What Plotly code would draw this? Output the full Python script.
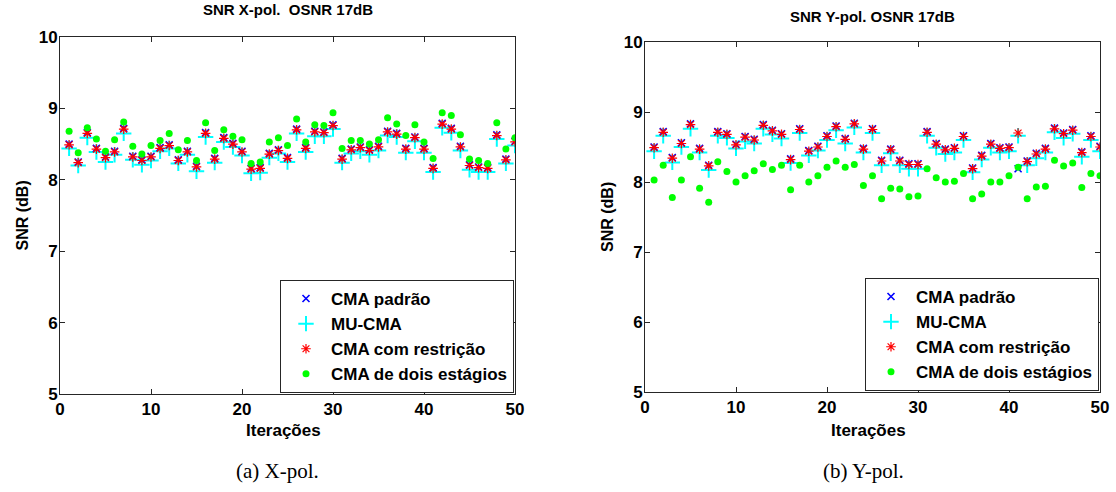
import plotly.graph_objects as go

iters = list(range(1, 51))

# ---- X-pol (left) ----
x_padrao = [8.50, 8.25, 8.66, 8.44, 8.32, 8.40, 8.72, 8.33, 8.28, 8.33, 8.45, 8.49, 8.28, 8.40, 8.19, 8.66, 8.30, 8.59, 8.51, 8.40,
            8.16, 8.17, 8.37, 8.42, 8.31, 8.71, 8.45, 8.68, 8.67, 8.77, 8.30, 8.43, 8.46, 8.42, 8.47, 8.68, 8.65, 8.44, 8.60, 8.44,
            8.17, 8.79, 8.72, 8.47, 8.21, 8.18, 8.17, 8.63, 8.29, 8.54]
x_mucma = [8.44, 8.20, 8.59, 8.39, 8.25, 8.35, 8.65, 8.28, 8.21, 8.27, 8.40, 8.44, 8.23, 8.35, 8.12, 8.60, 8.24, 8.53, 8.46, 8.34,
           8.09, 8.10, 8.31, 8.37, 8.25, 8.65, 8.39, 8.61, 8.61, 8.71, 8.24, 8.37, 8.40, 8.35, 8.41, 8.62, 8.60, 8.38, 8.54, 8.38,
           8.11, 8.73, 8.66, 8.41, 8.14, 8.11, 8.11, 8.57, 8.23, 8.48]
x_restr = [8.49, 8.24, 8.65, 8.43, 8.31, 8.39, 8.71, 8.32, 8.27, 8.32, 8.44, 8.48, 8.27, 8.39, 8.18, 8.65, 8.29, 8.58, 8.50, 8.39,
           8.15, 8.16, 8.36, 8.41, 8.30, 8.70, 8.44, 8.67, 8.66, 8.76, 8.29, 8.42, 8.45, 8.41, 8.46, 8.67, 8.64, 8.43, 8.59, 8.43,
           8.16, 8.78, 8.71, 8.46, 8.20, 8.17, 8.16, 8.62, 8.28, 8.53]
x_dois = [8.68, 8.38, 8.73, 8.57, 8.40, 8.56, 8.81, 8.47, 8.36, 8.48, 8.55, 8.65, 8.42, 8.55, 8.27, 8.80, 8.41, 8.70, 8.61, 8.56,
          8.23, 8.25, 8.53, 8.59, 8.48, 8.85, 8.53, 8.77, 8.76, 8.94, 8.44, 8.55, 8.55, 8.50, 8.56, 8.87, 8.78, 8.62, 8.77, 8.53,
          8.30, 8.94, 8.90, 8.63, 8.29, 8.27, 8.23, 8.80, 8.43, 8.59]

# ---- Y-pol (right) ----
y_padrao = [8.50, 8.72, 8.35, 8.56, 8.83, 8.48, 8.24, 8.72, 8.69, 8.54, 8.65, 8.61, 8.82, 8.74, 8.69, 8.33, 8.76, 8.45, 8.51, 8.66,
            8.80, 8.62, 8.84, 8.48, 8.76, 8.31, 8.47, 8.31, 8.26, 8.26, 8.72, 8.55, 8.47, 8.49, 8.66, 8.20, 8.38, 8.55, 8.49, 8.50,
            8.19, 8.30, 8.41, 8.48, 8.77, 8.70, 8.75, 8.43, 8.66, 8.51]
y_mucma = [8.44, 8.66, 8.28, 8.50, 8.76, 8.42, 8.17, 8.66, 8.63, 8.48, 8.58, 8.55, 8.76, 8.68, 8.62, 8.27, 8.70, 8.38, 8.45, 8.60,
           8.74, 8.55, 8.78, 8.42, 8.70, 8.24, 8.41, 8.24, 8.19, 8.19, 8.66, 8.49, 8.40, 8.42, 8.60, 8.14, 8.32, 8.49, 8.42, 8.44,
           8.66, 8.24, 8.34, 8.42, 8.71, 8.63, 8.69, 8.36, 8.60, 8.44]
y_restr = [8.49, 8.71, 8.34, 8.55, 8.82, 8.47, 8.23, 8.71, 8.68, 8.53, 8.64, 8.60, 8.81, 8.73, 8.68, 8.32, 8.75, 8.44, 8.50, 8.65,
           8.79, 8.61, 8.83, 8.47, 8.75, 8.30, 8.46, 8.30, 8.25, 8.25, 8.71, 8.54, 8.46, 8.48, 8.65, 8.19, 8.37, 8.54, 8.48, 8.49,
           8.70, 8.29, 8.40, 8.47, 8.76, 8.69, 8.74, 8.42, 8.65, 8.50]
y_dois = [8.03, 8.24, 7.78, 8.03, 8.36, 7.91, 7.71, 8.29, 8.15, 8.00, 8.09, 8.16, 8.26, 8.18, 8.24, 7.89, 8.24, 8.00, 8.09, 8.21,
          8.30, 8.21, 8.25, 7.95, 8.09, 7.76, 7.91, 7.90, 7.79, 7.80, 8.19, 8.06, 8.00, 8.01, 8.12, 7.76, 7.83, 8.00, 8.00, 8.09,
          8.21, 7.76, 7.93, 7.94, 8.31, 8.23, 8.27, 7.92, 8.12, 8.09]

names = ["CMA padrão", "MU-CMA", "CMA com restrição", "CMA de dois estágios"]
titles = ["SNR X-pol.  OSNR 17dB", "SNR Y-pol. OSNR 17dB"]
captions = ["(a) X-pol.", "(b) Y-pol."]
xticks = [0, 10, 20, 30, 40, 50]
yticks = [5, 6, 7, 8, 9, 10]

W, H = 1116, 492
SANS = "Liberation Sans, Arial, sans-serif"

styles = {
    "CMA padrão": dict(symbol="x-thin-open", size=7, color="#0000FF", line=dict(color="#0000FF", width=1.6)),
    "MU-CMA": dict(symbol="cross-thin-open", size=11, color="#00FFFF", line=dict(color="#00FFFF", width=2)),
    "CMA com restrição": dict(symbol="asterisk-open", size=8, color="#FF0000", line=dict(color="#FF0000", width=1.2)),
    "CMA de dois estágios": dict(symbol="circle", size=7, color="#00FF00", line=dict(width=0)),
}
ranks = {"CMA padrão": 1, "MU-CMA": 2, "CMA com restrição": 3, "CMA de dois estágios": 4}
draw_order = ["MU-CMA", "CMA padrão", "CMA com restrição", "CMA de dois estágios"]

panels = [
    dict(data={"CMA padrão": x_padrao, "MU-CMA": x_mucma, "CMA com restrição": x_restr, "CMA de dois estágios": x_dois},
         px=(60, 515), py=(37, 394), xa="x", ya="y", leg="legend", cap_x=277, title_y=9),
    dict(data={"CMA padrão": y_padrao, "MU-CMA": y_mucma, "CMA com restrição": y_restr, "CMA de dois estágios": y_dois},
         px=(645, 1100), py=(42, 392), xa="x2", ya="y2", leg="legend2", cap_x=863, title_y=17),
]

fig = go.Figure()
for p in panels:
    for nm in draw_order:
        fig.add_trace(go.Scatter(
            x=iters, y=p["data"][nm], mode="markers", name=nm,
            marker=styles[nm], xaxis=p["xa"], yaxis=p["ya"],
            legend=p["leg"], legendrank=ranks[nm],
        ))

axis_common = dict(
    showgrid=False, zeroline=False, showline=True, linecolor="#262626", linewidth=1,
    mirror="ticks", ticks="inside", ticklen=5, tickcolor="#262626", automargin=False,
    tickfont=dict(family=SANS, size=17, color="black", weight="bold"),
)

layout = dict(
    width=W, height=H, margin=dict(l=0, r=0, t=0, b=0, autoexpand=False),
    paper_bgcolor="white", plot_bgcolor="white", showlegend=True,
)


def ann(text, x, y, size, family=SANS, weight="bold", angle=0):
    return dict(text=text, x=x / W, y=1 - y / H, xref="paper", yref="paper",
                xanchor="center", yanchor="middle", showarrow=False, textangle=angle,
                font=dict(family=family, size=size, color="black", weight=weight))


annotations = []
for k, p in enumerate(panels):
    x0, x1 = p["px"]
    y0, y1 = p["py"]
    suffix = "" if k == 0 else "2"
    layout["xaxis" + suffix] = dict(axis_common, domain=[x0 / W, x1 / W], range=[0, 50],
                                   tickvals=xticks, anchor="y" + suffix)
    layout["yaxis" + suffix] = dict(axis_common, domain=[1 - y1 / H, 1 - y0 / H], range=[5, 10],
                                   tickvals=yticks, anchor="x" + suffix, ticklabelstandoff=-2)
    layout[p["leg"]] = dict(
        x=(x1 - 1) / W, y=1 - (y1 - 1) / H, xanchor="right", yanchor="bottom",
        bgcolor="white", bordercolor="#262626", borderwidth=1,
        font=dict(family=SANS, size=17, color="black", weight="bold"),
        tracegroupgap=0, itemwidth=40,
    )
    cx = (x0 + x1) / 2
    annotations.append(ann(titles[k], cx, p["title_y"], 15))
    annotations.append(ann("Iterações", cx - 4, 430, 17))
    annotations.append(ann("SNR (dB)", x0 - 38, (y0 + y1) / 2, 16, angle=-90))
    annotations.append(ann(captions[k], p["cap_x"], 471, 21,
                           family="Liberation Serif, DejaVu Serif, serif", weight="normal"))
layout["annotations"] = annotations
fig.update_layout(**layout)

fig.write_html("out.html", config={"displayModeBar": False},
               post_script="document.body.style.margin='0';")
